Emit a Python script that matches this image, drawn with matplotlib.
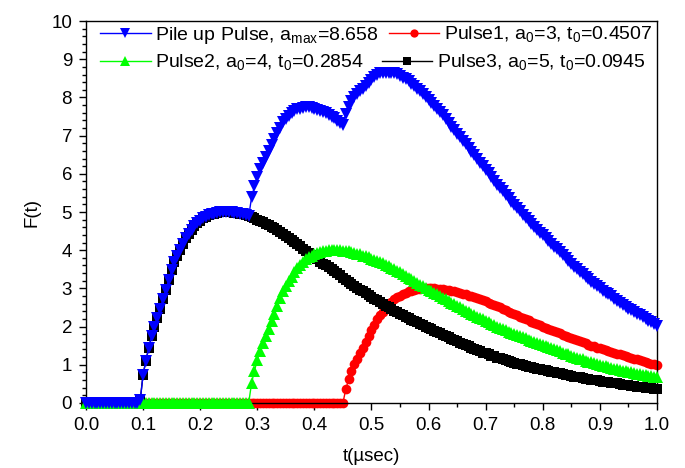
import numpy as np
import matplotlib.pyplot as plt
from matplotlib.ticker import MultipleLocator, FormatStrFormatter

# time axis (µsec), sampled every 0.005
t = np.linspace(0, 1, 201)

# Pulse1: a0=3, t0=0.4507  (zero up to t=0.450)
pulse1 = np.array([0.0] * 91 + [
    0.36, 0.62, 0.83, 1.01, 1.16, 1.30, 1.45, 1.60, 1.75, 1.90,
    2.05, 2.19, 2.30, 2.39, 2.48, 2.57, 2.65, 2.71, 2.77, 2.81,
    2.85, 2.89, 2.92, 2.94, 2.96, 2.98, 2.99, 3.00, 3.00, 3.00,
    3.00, 3.00, 2.99, 2.99, 2.98, 2.96, 2.95, 2.93, 2.92, 2.90,
    2.88, 2.86, 2.84, 2.81, 2.79, 2.77, 2.74, 2.72, 2.69, 2.66,
    2.63, 2.60, 2.56, 2.53, 2.50, 2.46, 2.43, 2.39, 2.36, 2.33,
    2.29, 2.26, 2.22, 2.19, 2.16, 2.13, 2.10, 2.07, 2.04, 2.00,
    1.97, 1.94, 1.91, 1.88, 1.85, 1.82, 1.79, 1.76, 1.73, 1.70,
    1.67, 1.64, 1.61, 1.59, 1.56, 1.53, 1.50, 1.48, 1.45, 1.43,
    1.40, 1.38, 1.36, 1.34, 1.31, 1.29, 1.27, 1.25, 1.22, 1.20,
    1.18, 1.16, 1.14, 1.12, 1.10, 1.07, 1.05, 1.03, 1.01, 0.99,
])

# Pulse2: a0=4, t0=0.2854  (zero up to t=0.285)
pulse2 = np.array([0.0] * 58 + [
    0.52, 0.84, 1.12, 1.36, 1.56, 1.74, 1.94, 2.14, 2.34, 2.54,
    2.74, 2.93, 3.07, 3.19, 3.31, 3.43, 3.53, 3.61, 3.69, 3.76,
    3.81, 3.86, 3.89, 3.92, 3.95, 3.97, 3.98, 4.00, 4.00, 4.00,
    4.00, 4.00, 3.99, 3.98, 3.97, 3.95, 3.93, 3.91, 3.89, 3.86,
    3.84, 3.81, 3.78, 3.75, 3.72, 3.69, 3.66, 3.62, 3.58, 3.54,
    3.50, 3.46, 3.42, 3.37, 3.33, 3.28, 3.24, 3.19, 3.14, 3.10,
    3.06, 3.01, 2.96, 2.92, 2.88, 2.84, 2.80, 2.76, 2.72, 2.67,
    2.62, 2.58, 2.54, 2.50, 2.46, 2.42, 2.38, 2.34, 2.30, 2.26,
    2.22, 2.19, 2.15, 2.12, 2.08, 2.04, 2.00, 1.97, 1.94, 1.90,
    1.87, 1.84, 1.81, 1.78, 1.75, 1.72, 1.69, 1.66, 1.63, 1.60,
    1.57, 1.54, 1.52, 1.49, 1.46, 1.43, 1.40, 1.38, 1.35, 1.32,
    1.29, 1.27, 1.24, 1.21, 1.19, 1.16, 1.14, 1.11, 1.08, 1.06,
    1.04, 1.02, 1.00, 0.98, 0.96, 0.94, 0.92, 0.90, 0.88, 0.86,
    0.84, 0.83, 0.81, 0.80, 0.78, 0.76, 0.75, 0.74, 0.72, 0.71,
    0.70, 0.68, 0.67,
])

# Pulse3: a0=5, t0=0.0945  (zero up to t=0.090)
pulse3 = np.array([0.0] * 19 + [
    0.07, 0.74, 1.11, 1.45, 1.75, 2.00, 2.22, 2.47, 2.72, 2.97,
    3.22, 3.47, 3.69, 3.86, 4.01, 4.16, 4.31, 4.43, 4.53, 4.63,
    4.71, 4.77, 4.83, 4.87, 4.91, 4.94, 4.96, 4.98, 4.99, 5.00,
    5.00, 5.00, 4.99, 4.98, 4.97, 4.96, 4.94, 4.91, 4.89, 4.86,
    4.83, 4.80, 4.76, 4.73, 4.69, 4.65, 4.61, 4.57, 4.52, 4.47,
    4.42, 4.37, 4.32, 4.27, 4.21, 4.16, 4.10, 4.04, 3.99, 3.93,
    3.87, 3.82, 3.76, 3.70, 3.65, 3.60, 3.55, 3.50, 3.45, 3.39,
    3.34, 3.28, 3.22, 3.17, 3.12, 3.07, 3.02, 2.97, 2.92, 2.87,
    2.82, 2.78, 2.73, 2.69, 2.65, 2.60, 2.55, 2.50, 2.46, 2.42,
    2.38, 2.34, 2.30, 2.26, 2.22, 2.18, 2.15, 2.11, 2.07, 2.03,
    2.00, 1.96, 1.93, 1.89, 1.86, 1.82, 1.79, 1.75, 1.72, 1.68,
    1.65, 1.61, 1.58, 1.55, 1.51, 1.48, 1.45, 1.42, 1.38, 1.35,
    1.32, 1.30, 1.27, 1.24, 1.22, 1.19, 1.17, 1.14, 1.12, 1.10,
    1.07, 1.05, 1.03, 1.01, 0.99, 0.97, 0.95, 0.93, 0.92, 0.90,
    0.88, 0.87, 0.85, 0.84, 0.82, 0.81, 0.79, 0.78, 0.76, 0.74,
    0.72, 0.71, 0.69, 0.68, 0.67, 0.65, 0.64, 0.63, 0.61, 0.60,
    0.59, 0.58, 0.56, 0.55, 0.54, 0.53, 0.52, 0.51, 0.49, 0.48,
    0.47, 0.46, 0.45, 0.44, 0.43, 0.42, 0.41, 0.40, 0.39, 0.38,
    0.37, 0.36,
])

# pile-up = sum of the three pulses
pile = pulse1 + pulse2 + pulse3

plt.rcParams['font.family'] = ['Liberation Sans', 'DejaVu Sans']
plt.rcParams['mathtext.fontset'] = 'custom'
plt.rcParams['mathtext.rm'] = 'Liberation Sans'

fig = plt.figure(figsize=(6.85, 4.68), dpi=100)
ax = fig.add_axes([0.1255, 0.139, 0.8336, 0.816])

h1, = ax.plot(t, pulse1, color='#ff0000', marker='o', ms=7, mew=0, lw=1, zorder=2, clip_on=False)
h3, = ax.plot(t, pulse3, color='black', marker='s', ms=6.5, mew=0, lw=1, zorder=3, clip_on=False)
h2, = ax.plot(t, pulse2, color='#00ff00', marker='^', ms=8, mew=0, lw=1, zorder=4, clip_on=False)
hp, = ax.plot(t, pile, color='#0000ff', marker='v', ms=8, mew=0, lw=1, zorder=5, clip_on=False)

ax.set_xlim(0, 1)
ax.set_ylim(0, 10)
ax.xaxis.set_major_locator(MultipleLocator(0.1))
ax.xaxis.set_minor_locator(MultipleLocator(0.05))
ax.xaxis.set_major_formatter(FormatStrFormatter('%.1f'))
ax.yaxis.set_major_locator(MultipleLocator(1))
ax.yaxis.set_minor_locator(MultipleLocator(0.2))
ax.tick_params(which='major', direction='out', length=5, width=1, labelsize=13.5, pad=5)
ax.tick_params(which='minor', direction='out', length=3, width=1)
for s in ax.spines.values():
    s.set_linewidth(1)

ax.set_xlabel('t(µsec)', fontsize=13.5, labelpad=10)
ax.set_ylabel('F(t)', fontsize=13.5, labelpad=8)

sub = r'$_\mathregular{%s}$'
kw = dict(ncol=2, frameon=False, fontsize=14, borderpad=0, borderaxespad=0,
          handlelength=2.6, handletextpad=0.25, loc='center left',
          numpoints=1, markerscale=0.85)
leg1 = ax.legend([hp, h1], ['Pile up Pulse, a' + sub % 'max' + '=8.658',
                            'Pulse1, a' + sub % '0' + '=3, t' + sub % '0' + '=0.4507'],
                 bbox_to_anchor=(100 / 685, 1 - 35 / 468), bbox_transform=fig.transFigure,
                 columnspacing=0.5, **kw)
ax.add_artist(leg1)
ax.legend([h2, h3], ['Pulse2, a' + sub % '0' + '=4, t' + sub % '0' + '=0.2854',
                     'Pulse3, a' + sub % '0' + '=5, t' + sub % '0' + '=0.0945'],
          bbox_to_anchor=(100 / 685, 1 - 63 / 468), bbox_transform=fig.transFigure,
          columnspacing=0.9, **kw)

plt.savefig('out.png', dpi=100)
